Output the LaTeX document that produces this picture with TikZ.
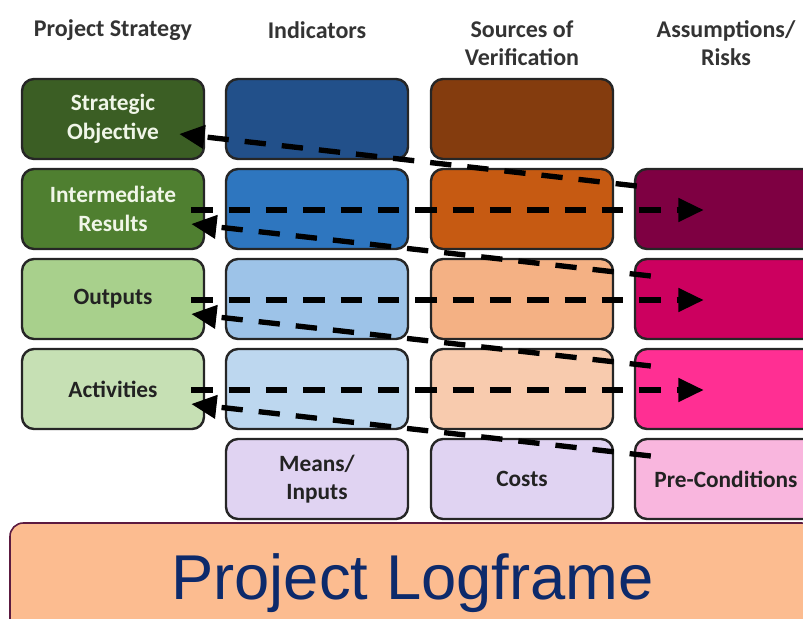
\documentclass[tikz,border=0pt]{standalone}
\usepackage{fontspec}
\setmainfont{Carlito}
\newfontfamily\bannerfont{Liberation Sans}
\usetikzlibrary{positioning}
\usetikzlibrary{arrows.meta}
\usetikzlibrary{calc}

\definecolor{psA}{HTML}{3B5E24}
\definecolor{psB}{HTML}{4F7F30}
\definecolor{psC}{HTML}{A8D08C}
\definecolor{psD}{HTML}{C6E0B4}
\definecolor{indA}{HTML}{22508A}
\definecolor{indB}{HTML}{2E76BF}
\definecolor{indC}{HTML}{9DC3E8}
\definecolor{indD}{HTML}{BDD7EF}
\definecolor{sovA}{HTML}{843C0E}
\definecolor{sovB}{HTML}{C65A12}
\definecolor{sovC}{HTML}{F4B184}
\definecolor{sovD}{HTML}{F8CBAE}
\definecolor{arB}{HTML}{7E0042}
\definecolor{arC}{HTML}{CC005F}
\definecolor{arD}{HTML}{FF2F93}
\definecolor{arE}{HTML}{F9B6DE}
\definecolor{lav}{HTML}{E0D3F2}
\definecolor{cream}{HTML}{F0F6E8}
\definecolor{celltext}{HTML}{222222}
\definecolor{cellline}{HTML}{262626}
\definecolor{headtext}{HTML}{333333}
\definecolor{bannerfill}{HTML}{FCBC90}
\definecolor{bannerline}{HTML}{5C1A40}
\definecolor{navy}{HTML}{0D2A6B}

\tikzset{
  cell/.style={draw=cellline, line width=1.8pt, rounded corners=9pt,
    minimum width=136.5pt, minimum height=60pt, inner sep=0pt, align=center,
    text=celltext, font=\bfseries\fontsize{17.5}{21.5}\selectfont},
  head/.style={align=center, inner sep=0pt, text=headtext,
    font=\bfseries\fontsize{18}{21}\selectfont},
  link/.style={draw=black, line width=4pt, dash pattern=on 16pt off 12pt,
    -{Triangle[length=19pt,width=17pt]}},
  banner/.style={draw=bannerline, fill=bannerfill, line width=1.2pt,
    rounded corners=10pt, minimum width=603.75pt, minimum height=90.75pt,
    text=navy, font=\bannerfont\fontsize{47.5}{50}\selectfont}
}

\begin{document}
\begin{tikzpicture}[x=0.75pt, y=-0.75pt]
		\clip (0,0) rectangle (803,618);

		% Column headings
		\node[head] (hps) at (113,30) {Project Strategy};
		\node[head] (hind) at (317,30) {Indicators};
		\node[head] (hsov) at (522,43) {Sources of\\Verification};
		\node[head] (har) at (726,43) {Assumptions/\\Risks};

		% Project strategy column
		\foreach \r/\fc/\tc/\txt in {1/psA/cream/{Strategic\\Objective}, 2/psB/cream/{Intermediate\\Results}, 3/psC/celltext/Outputs, 4/psD/celltext/Activities}
		\node[cell, fill=\fc, text=\tc] (ps\r) at (113, 29+90*\r) {\txt};

		% Indicators and sources of verification
		\foreach \r/\fa/\fb in {1/indA/sovA, 2/indB/sovB, 3/indC/sovC, 4/indD/sovD}
		{
		\node[cell, fill=\fa] (ind\r) at (317, 29+90*\r) {};
		\node[cell, fill=\fb] (sov\r) at (522, 29+90*\r) {};
		}
		\node[cell, fill=lav] (ind5) at (317,479) {Means/\\Inputs};
		\node[cell, fill=lav] (sov5) at (522,479) {Costs};

		% Assumptions column
		\foreach \r/\fc in {2/arB, 3/arC, 4/arD}
		\node[cell, fill=\fc] (ar\r) at (726, 29+90*\r) {};
		\node[cell, fill=arE] (ar5) at (726,479) {Pre-Conditions};

		% Bottom banner
		\node[banner] (frame) at (412.5,583.5) {Project Logframe};

		% Dashed links
		\foreach \r in {2,3,4}
		\draw[link] ($(ps\r.east)+(-14,1)$) -- ($(ar\r.west)+(70,1)$);

		\foreach \r/\n/\sx/\dx in {1/2/3/-26, 2/3/17/-14, 3/4/17/-14, 4/5/17/-14}
		\draw[link] ($(ar\n.west)+(\sx,-23)$) -- ($(ps\r.east)+(\dx,15)$);
\end{tikzpicture}
\end{document}
